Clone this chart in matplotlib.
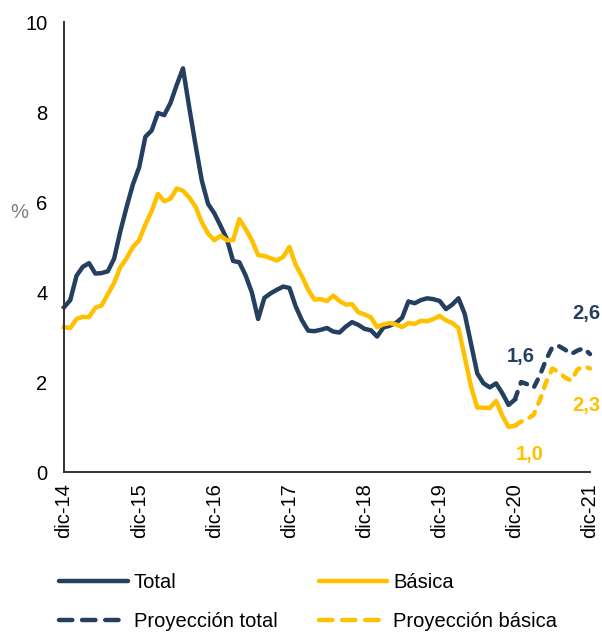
import matplotlib.pyplot as plt
from matplotlib.lines import Line2D

plt.rcParams['font.family'] = ['Liberation Sans', 'DejaVu Sans']

# monthly, dic-14 .. dic-20 (observed)
total = [3.66, 3.82, 4.36, 4.56, 4.64, 4.41, 4.42, 4.46, 4.74, 5.35, 5.89, 6.39,
         6.77, 7.45, 7.59, 7.98, 7.93, 8.20, 8.60, 8.97, 8.10, 7.27, 6.48, 5.96,
         5.75, 5.47, 5.18, 4.69, 4.66, 4.37, 3.99, 3.40, 3.87, 3.97, 4.05, 4.12,
         4.09, 3.68, 3.37, 3.14, 3.13, 3.16, 3.20, 3.12, 3.10, 3.23, 3.33, 3.27,
         3.18, 3.15, 3.01, 3.21, 3.25, 3.31, 3.43, 3.79, 3.75, 3.82, 3.86, 3.84,
         3.80, 3.62, 3.72, 3.86, 3.51, 2.85, 2.19, 1.97, 1.88, 1.97, 1.75, 1.49,
         1.61]
basica = [3.22, 3.20, 3.40, 3.45, 3.44, 3.65, 3.70, 3.95, 4.20, 4.55, 4.75, 5.00,
          5.15, 5.50, 5.80, 6.18, 6.02, 6.07, 6.30, 6.25, 6.10, 5.90, 5.55, 5.30,
          5.15, 5.25, 5.15, 5.15, 5.62, 5.40, 5.15, 4.82, 4.80, 4.75, 4.70, 4.78,
          5.00, 4.60, 4.35, 4.05, 3.83, 3.84, 3.80, 3.92, 3.80, 3.72, 3.73, 3.55,
          3.50, 3.44, 3.22, 3.28, 3.31, 3.28, 3.22, 3.31, 3.29, 3.36, 3.35, 3.40,
          3.47, 3.37, 3.31, 3.20, 2.55, 1.90, 1.43, 1.43, 1.42, 1.58, 1.25, 1.00,
          1.03]
# projections, dic-20 .. dic-21
proy_total = [1.61, 2.00, 1.95, 1.87, 2.15, 2.50, 2.78, 2.80, 2.72, 2.62, 2.70, 2.75, 2.62]
proy_basica = [1.03, 1.12, 1.18, 1.27, 1.60, 2.00, 2.30, 2.22, 2.10, 2.03, 2.28, 2.35, 2.30]
tick_labels = ['dic-14', 'dic-15', 'dic-16', 'dic-17', 'dic-18', 'dic-19', 'dic-20', 'dic-21']

navy = '#243F60'
gold = '#FFC000'
fs = 14.5
lw = 3.2

fig = plt.figure(figsize=(6.02, 6.33), dpi=100)
ax = fig.add_axes([64 / 602, 161 / 633, 526 / 602, 450 / 633])

x_obs = list(range(len(total)))
x_proy = list(range(len(total) - 1, len(total) - 1 + len(proy_total)))

ax.plot(x_obs, total, color=navy, lw=lw, solid_joinstyle='round', clip_on=False)
ax.plot(x_obs, basica, color=gold, lw=lw, solid_joinstyle='round', clip_on=False)
ax.plot(x_proy, proy_total, color=navy, lw=lw, dashes=(1.8, 2.0),
        dash_capstyle='round', dash_joinstyle='round', clip_on=False)
ax.plot(x_proy, proy_basica, color=gold, lw=lw, dashes=(1.8, 2.0),
        dash_capstyle='round', dash_joinstyle='round', clip_on=False)

ax.set_xlim(0, 84)
ax.set_ylim(0, 10)
ax.set_xticks(range(0, 85, 12))
ax.set_xticklabels(tick_labels, rotation=90)
ax.set_yticks(range(0, 11, 2))
ax.tick_params(axis='x', length=0, pad=8, labelsize=fs)
ax.tick_params(axis='y', length=0, pad=12, labelsize=fs)
for s in ['top', 'right']:
    ax.spines[s].set_visible(False)
for s in ['left', 'bottom']:
    ax.spines[s].set_color('#333333')
    ax.spines[s].set_linewidth(1.4)

fig.text(19 / 602, 1 - 213 / 633, '%', ha='center', va='center', fontsize=fs, color='#7F7F7F')

def lbl(v):
    return f'{v:.1f}'.replace('.', ',')

ax.annotate(lbl(total[-1]), (x_obs[-1], total[-1]), xytext=(4.3, 31), textcoords='offset points',
            ha='center', va='center', fontsize=fs, fontweight='bold', color=navy)
ax.annotate(lbl(basica[-1]), (x_obs[-1], basica[-1]), xytext=(10.8, -20.5), textcoords='offset points',
            ha='center', va='center', fontsize=fs, fontweight='bold', color=gold)
ax.annotate(lbl(proy_total[-1]), (x_proy[-1], proy_total[-1]), xytext=(-3, 29.5), textcoords='offset points',
            ha='center', va='center', fontsize=fs, fontweight='bold', color=navy, annotation_clip=False)
ax.annotate(lbl(proy_basica[-1]), (x_proy[-1], proy_basica[-1]), xytext=(-3, -26.5), textcoords='offset points',
            ha='center', va='center', fontsize=fs, fontweight='bold', color=gold, annotation_clip=False)

handles = [
    Line2D([], [], color=navy, lw=lw, solid_capstyle='round'),
    Line2D([], [], color=navy, lw=lw, dashes=(3.0, 2.2), dash_capstyle='round'),
    Line2D([], [], color=gold, lw=lw, solid_capstyle='round'),
    Line2D([], [], color=gold, lw=lw, dashes=(3.0, 2.2), dash_capstyle='round'),
]
labels = ['Total', 'Proyección total', 'Básica', 'Proyección básica']
fig.legend(handles, labels, ncol=2, loc='upper left', bbox_to_anchor=(49 / 602, 1 - 563 / 633),
           frameon=False, fontsize=fs, borderpad=0, handlelength=3.4, handletextpad=0.3,
           columnspacing=2.05, labelspacing=1.0)

fig.savefig('out.png', dpi=100)
